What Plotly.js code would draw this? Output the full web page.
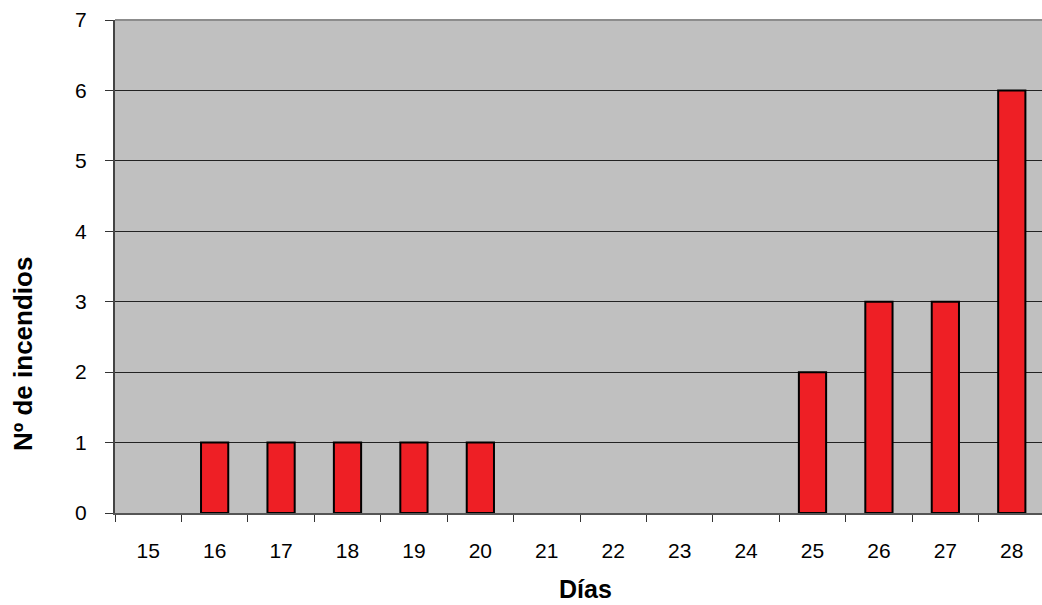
<!DOCTYPE html>
<html>
<head>
<meta charset="utf-8">
<script src="https://cdn.plot.ly/plotly-3.0.1.min.js"></script>
<style>
html,body{margin:0;padding:0;overflow:hidden;background:#fff;}
#chart{width:1050px;height:605px;}
</style>
</head>
<body>
<div id="chart"></div>
<script>
const dias = ["15","16","17","18","19","20","21","22","23","24","25","26","27","28"];
const incendios = [0,1,1,1,1,1,0,0,0,0,2,3,3,6];
const yTicks = [0,1,2,3,4,5,6,7];
const xTitle = "Días";
const yTitle = "Nº de incendios";

const trace = {
  type: "bar",
  x: dias,
  y: incendios,
  width: 0.41,
  marker: {
    color: "#EE1F25",
    line: {color: "#000", width: incendios.map(v => v > 0 ? 2 : 0)}
  },
  hoverinfo: "x+y"
};

const layout = {
  width: 1050,
  height: 605,
  margin: {l: 115, r: 5, t: 20, b: 92},
  paper_bgcolor: "#ffffff",
  plot_bgcolor: "#C0C0C0",
  showlegend: false,
  font: {family: "Liberation Sans, Arial, sans-serif", color: "#000", size: 21},
  xaxis: {
    type: "category",
    tickson: "boundaries",
    ticks: "outside",
    ticklen: 7,
    tickwidth: 1,
    tickcolor: "#333",
    showline: true,
    linecolor: "#555",
    linewidth: 2,
    showgrid: false,
    ticklabelstandoff: 18,
    tickfont: {size: 21}
  },
  yaxis: {
    range: [0, 7],
    tickvals: yTicks,
    ticks: "outside",
    ticklen: 8,
    tickwidth: 1,
    tickcolor: "#333",
    showline: true,
    linecolor: "#444",
    linewidth: 2,
    showgrid: true,
    gridcolor: "#222",
    gridwidth: 1,
    zeroline: false,
    ticklabelstandoff: 14,
    tickfont: {size: 21}
  },
  annotations: [
    {text: xTitle, xref: "paper", yref: "paper", x: 0.5054, y: 0,
     xanchor: "center", yanchor: "middle", yshift: -76, showarrow: false,
     borderpad: 0, font: {size: 25, weight: "bold"}},
    {text: yTitle, xref: "paper", yref: "paper", x: 0, y: 0.3225,
     xanchor: "center", yanchor: "middle", xshift: -92, textangle: -90, showarrow: false,
     font: {size: 26, weight: "bold"}}
  ],
  shapes: [
    {type: "line", xref: "paper", yref: "paper", x0: 0, x1: 1, y0: 1, y1: 1,
     line: {color: "#8C8C8C", width: 2}}
  ]
};

Plotly.newPlot("chart", [trace], layout, {displayModeBar: false, staticPlot: true});
</script>
</body>
</html>
